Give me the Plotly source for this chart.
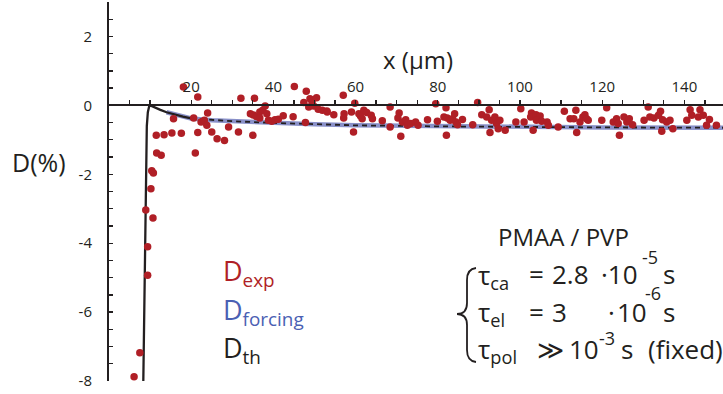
import plotly.graph_objects as go

# ---------------- data ----------------
exp_x = [6.1, 7.5, 9.4, 9.4, 8.95, 10.7, 10.2, 10.4, 10.8, 11.6, 12.7, 11.5, 13.4, 15.3, 17.6,
         15.7, 18.1, 21.6, 21.0, 20.6, 22.4, 23.2, 24.0, 23.8, 21.6, 25.0, 26.3, 28.1, 29.1,
         31.5, 32.1, 35.4, 35.0, 34.4, 35.1, 35.9, 36.7, 37.4, 38.0, 38.4, 36.7, 38.8, 39.6,
         40.4, 41.2, 42.4, 44.8, 45.1, 47.4, 48.0, 47.8, 48.9, 49.4, 50.5, 48.6, 49.8, 50.9,
         51.9, 53.0, 53.1, 54.7, 57.0, 57.2, 57.1, 59.0, 59.8, 59.5, 60.8, 61.2, 62.0, 62.7,
         61.6, 63.8, 64.1, 66.5, 68.4, 68.4, 70.6, 70.3, 71.4, 72.2, 72.6, 71.0, 73.4, 74.6,
         75.2, 77.5, 79.5, 79.9, 82.0, 81.5, 82.3, 83.0, 83.6, 84.1, 84.4, 84.8, 86.0, 82.1,
         88.5, 89.7, 90.7, 92.5, 91.9, 93.1, 93.9, 94.3, 95.1, 96.4, 92.7, 94.7, 99.0, 100.2,
         101.0, 102.8, 102.6, 103.9, 104.9, 104.0, 105.3, 103.2, 106.6, 106.9, 109.3, 110.8,
         112.2, 113.1, 113.6, 113.8, 114.6, 115.3, 115.8, 116.6, 116.2, 119.9, 121.1, 122.7,
         123.5, 123.9, 124.2, 125.3, 126.0, 126.6, 127.4, 130.2, 131.2, 131.6, 132.6, 133.7,
         134.2, 134.7, 135.7, 134.5, 136.5, 137.2, 140.6, 141.4, 141.8, 143.8, 143.4, 144.6,
         145.4, 146.1, 147.8]
exp_y = [-7.88, -7.18, -4.93, -4.10, -3.04, -3.27, -2.42, -1.90, -1.96, -1.38, -1.45, -0.87,
         -0.85, -0.80, -0.81, -0.39, 0.53, 0.24, -1.38, -0.37, -0.48, -0.43, -0.22, -0.58,
         -0.79, -0.77, -0.97, -1.02, -0.63, -0.77, 0.21, 0.21, -0.87, -0.24, -0.28, -0.32,
         -0.19, -0.14, -0.02, -0.24, -0.37, -0.43, -0.46, -0.42, -0.40, -0.30, -0.33, 0.55,
         0.08, 0.41, -0.50, 0.19, 0.12, 0.22, -0.05, -0.02, -0.11, -0.14, -0.16, -0.19, -0.27,
         0.29, -0.24, -0.37, -0.19, 0.06, -0.77, -0.24, -0.31, -0.14, -0.21, -0.39, -0.29,
         -0.39, -0.45, -0.05, -0.63, -0.22, -0.37, -0.48, -0.42, -0.58, -0.90, -0.53, -0.48,
         -0.58, -0.42, 0.05, -0.46, -0.07, -0.34, -0.37, -0.43, -0.39, -0.24, -0.48, -0.56,
         -0.41, -0.87, -0.56, 0.08, -0.27, -0.13, -0.34, -0.43, -0.34, -0.53, -0.43, -0.72,
         -0.79, -0.68, -0.48, -0.10, -0.48, -0.22, -0.34, -0.27, -0.31, -0.43, -0.46, -0.72,
         -0.48, -0.58, -0.63, -0.17, -0.39, -0.39, -0.14, -0.79, -0.48, -0.34, -0.27, -0.43,
         -0.39, -0.43, -0.07, -0.48, -0.39, -0.53, -0.87, -0.34, -0.48, -0.39, -0.56, -0.43,
         -0.05, -0.34, -0.37, -0.29, -0.17, -0.42, -0.48, -0.75, -0.43, -0.68, -0.43, -0.13,
         -0.29, -0.13, -0.34, -0.29, -0.58, -0.41, -0.58]

th_x = [8.35, 8.6, 8.8, 8.95, 9.05, 9.2, 9.45, 9.75, 10.05, 10.5, 11.2, 12.5, 14, 16, 18, 20,
        25, 30, 40, 50, 60, 80, 100, 120, 150]
th_y = [-8.0, -6.0, -4.0, -2.5, -1.5, -0.6, -0.2, -0.04, 0.0, -0.02, -0.06, -0.13, -0.2,
        -0.27, -0.33, -0.38, -0.43, -0.46, -0.51, -0.55, -0.58, -0.61, -0.63, -0.64, -0.65]

forc_x = [14, 16, 18, 20, 25, 30, 40, 50, 60, 80, 100, 120, 150]
forc_y = [-0.2, -0.27, -0.33, -0.38, -0.43, -0.46, -0.51, -0.55, -0.58, -0.61, -0.63, -0.64, -0.65]

# labelled ticks
y_label_vals = [-8, -6, -4, -2, 0, 2]
y_label_text = ["-8", "-6", "-4", "-2", "0", "2"]
x_label_vals = [20, 40, 60, 80, 100, 120, 140]
x_label_text = ["20", "40", "60", "80", "100", "120", "140"]
# all tick marks (unlabelled ones included)
y_tick_marks = [-8, -7.5, -7, -6.5, -6, -5.5, -5, -4.5, -4, -3.5, -3, -2.5, -2, -1.5, -1,
                -0.5, 0, 0.5, 1, 1.5, 2, 2.5]
x_tick_marks = [5, 10, 15, 20, 25, 30, 35, 40, 45, 50, 55, 60, 65, 70, 75, 80, 85, 90, 95,
                100, 105, 110, 115, 120, 125, 130, 135, 140, 145]

X_RANGE = [0, 149.4]
Y_RANGE = [-8, 3]

# ---------------- styles ----------------
RED = "#b01f26"
BLUE_LINE = "#8a91c9"
BLUE_TEXT = "#4a60b3"
INK = "#231f20"
FONT = "Open Sans"

W, H = 723, 394
ML, MR, MT, MB = 109, 0, 2, 13
PW, PH = W - ML - MR, H - MT - MB


def P(px, py):
    return (px - ML) / PW, 1 - (py - MT) / PH


def labels_for(marks, vals, texts):
    lut = dict(zip(vals, texts))
    return [lut.get(m, "") for m in marks]


fig = go.Figure()

fig.add_trace(go.Scatter(x=forc_x, y=forc_y, mode="lines",
                         line=dict(color=BLUE_LINE, width=4.5), hoverinfo="skip"))
solid_x = [x for x in th_x if x <= 20]
solid_y = [y for x, y in zip(th_x, th_y) if x <= 20]
dash_x = [x for x in th_x if x >= 20]
dash_y = [y for x, y in zip(th_x, th_y) if x >= 20]
fig.add_trace(go.Scatter(x=solid_x, y=solid_y, mode="lines",
                         line=dict(color=INK, width=2.3), hoverinfo="skip"))
fig.add_trace(go.Scatter(x=dash_x, y=dash_y, mode="lines",
                         line=dict(color=INK, width=1.8, dash="5px,4px"), hoverinfo="skip"))
fig.add_trace(go.Scatter(x=exp_x, y=exp_y, mode="markers",
                         marker=dict(color=RED, size=7.5, line=dict(width=0)),
                         cliponaxis=True))

fig.update_layout(
    width=W, height=H, showlegend=False,
    margin=dict(l=ML, r=MR, t=MT, b=MB, pad=0, autoexpand=False),
    paper_bgcolor="white", plot_bgcolor="white",
    font=dict(family=FONT, color=INK),
    xaxis=dict(range=X_RANGE, showgrid=False, zeroline=False, showline=True,
               automargin=False,
               linecolor=INK, linewidth=2, anchor="free",
               position=(0 - Y_RANGE[0]) / (Y_RANGE[1] - Y_RANGE[0]),
               side="top", ticks="outside", ticklen=4, tickwidth=1.3, tickcolor=INK,
               tickmode="array", tickvals=x_tick_marks,
               ticktext=labels_for(x_tick_marks, x_label_vals, x_label_text),
               tickfont=dict(size=15, family=FONT, color=INK), ticklabelstandoff=2),
    yaxis=dict(range=Y_RANGE, showgrid=False, zeroline=False, showline=True,
               automargin=False,
               linecolor=INK, linewidth=2, ticks="inside", ticklen=4, tickwidth=1.3,
               tickcolor=INK, tickmode="array", tickvals=y_tick_marks,
               ticktext=labels_for(y_tick_marks, y_label_vals, y_label_text),
               tickfont=dict(size=15, family=FONT, color=INK), ticklabelstandoff=12),
)

ann = []


def add_text(text, px, py, size, color=INK, xanchor="left", yanchor="middle"):
    x, y = P(px, py)
    ann.append(dict(text=text, x=x, y=y, xref="paper", yref="paper", showarrow=False,
                    xanchor=xanchor, yanchor=yanchor,
                    font=dict(size=size, color=color, family=FONT)))


add_text("x (μm)", 418, 59, 24, xanchor="center")
add_text("D(%)", 39, 162, 25, xanchor="center")

add_text("D<sub>exp</sub>", 221, 272, 27, color=RED)
add_text("D<sub>forcing</sub>", 221, 311, 27, color=BLUE_TEXT)
add_text("D<sub>th</sub>", 221, 349, 27, color=INK)

add_text("PMAA / PVP", 563, 236, 24, xanchor="center")

TS, SS = 26, 18  # main / superscript sizes
# line 1
add_text("τ<sub>ca</sub>", 476, 276, TS)
add_text("=", 527, 274, TS)
add_text("2.8", 550, 274, TS)
add_text("·10", 599, 274, TS)
add_text("-5", 640, 257, SS)
add_text("s", 661, 274, TS)
# line 2
add_text("τ<sub>el</sub>", 476, 313, TS)
add_text("=", 527, 312, TS)
add_text("3", 550, 312, TS)
add_text("·", 606, 312, TS)
add_text("10", 615, 312, TS)
add_text("-6", 643, 293, SS)
add_text("s", 661, 312, TS)
# line 3
add_text("τ<sub>pol</sub>", 476, 350, TS)
add_text("≫", 535, 349, TS)
add_text("10", 567, 349, TS)
add_text("-3", 597, 338, SS)
add_text("s", 619, 349, TS)
add_text("(fixed)", 646, 349, TS)

fig.update_layout(annotations=ann)

# brace
pts = [("M", 476, 268), ("Q", 467, 269, 467, 280), ("L", 467, 303), ("Q", 467, 314, 457, 314),
       ("Q", 467, 314, 467, 325), ("L", 467, 350), ("Q", 467, 361, 476, 362)]
path = ""
for seg in pts:
    cmd, coords = seg[0], seg[1:]
    parts = []
    for i in range(0, len(coords), 2):
        x, y = P(coords[i], coords[i + 1])
        parts.append(f"{x:.5f},{y:.5f}")
    path += cmd + " " + " ".join(parts) + " "
fig.add_shape(type="path", path=path.strip(), xref="paper", yref="paper",
              line=dict(color=INK, width=1.8))

fig.write_html("out.html", config={"displayModeBar": False, "staticPlot": True},
               post_script="document.body.style.margin='0';document.body.style.padding='0';")
